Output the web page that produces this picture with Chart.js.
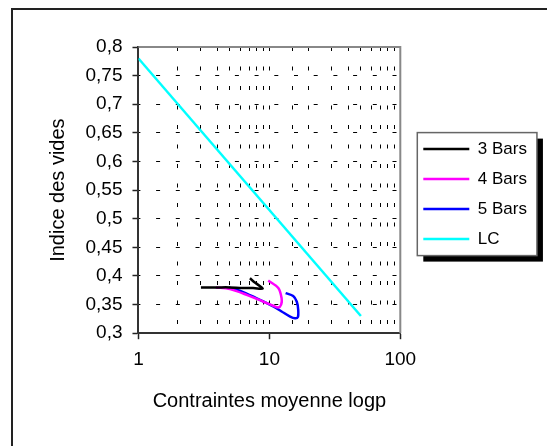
<!DOCTYPE html>
<html>
<head>
<meta charset="utf-8">
<script src="https://cdn.jsdelivr.net/npm/chart.js@4/dist/chart.umd.min.js"></script>
<style>
  html, body { margin: 0; padding: 0; background: #fff; }
  #wrap { position: relative; width: 547px; height: 446px; overflow: hidden; }
  #frame { position: absolute; left: 11px; top: 8px; width: 700px; height: 600px; border: 2px solid #222; }
  #plot { position: absolute; left: 0; top: 0; width: 547px; height: 446px; }
</style>
</head>
<body>
<div id="wrap">
  <div id="frame"></div>
  <div id="plot"><canvas id="myChart"></canvas></div>
</div>
<script>
// void ratio vs mean stress (log scale)
const bars3X = [3.0, 4.0, 5.0, 6.2, 7.5, 8.9, 7.8, 7.1];
const bars3Y = [0.380, 0.380, 0.380, 0.379, 0.379, 0.378, 0.388, 0.396];

const bars4X = [3.9, 5.0, 6.7, 9.0, 10.7, 11.7, 12.3, 12.4, 11.7, 9.8];
const bars4Y = [0.380, 0.377, 0.367, 0.355, 0.348, 0.345, 0.350, 0.361, 0.379, 0.392];

const bars5X = [4.9, 6.0, 8.0, 10.7, 12.4, 14.4, 15.7, 16.5, 16.6, 16.2, 15.2, 13.3];
const bars5Y = [0.380, 0.374, 0.361, 0.347, 0.338, 0.329, 0.326, 0.328, 0.341, 0.355, 0.365, 0.370];

const lcX = [1, 50];
const lcY = [0.78, 0.33];

const xTickLabels = [1, 10, 100];

const toPoints = (xs, ys) => xs.map((x, i) => ({x: x, y: ys[i]}));
const isDecade = v => Math.abs(Math.log10(v) - Math.round(Math.log10(v))) < 1e-9;
const near = (a, b) => Math.abs(a - b) < 1e-6;

Chart.defaults.font.family = "'Liberation Sans', Arial, sans-serif";
Chart.defaults.color = '#000';

// grey top/right edges of the plot, and a boxed legend with a drop shadow
const chartDecor = {
  id: 'chartDecor',
  afterLayout(chart) {
    const lg = chart.legend;
    if (!lg) return;
    const w = lg.width, h = lg.height;
    lg.left = chart.chartArea.right + 10;
    lg.right = lg.left + w;
    lg.top += 4;
    lg.bottom = lg.top + h;
  },
  beforeDraw(chart) {
    const boxes = chart.legend && chart.legend.legendHitBoxes;
    if (!boxes || !boxes.length) return;
    const ctx = chart.ctx;
    const left = Math.min(...boxes.map(b => b.left)) - 6;
    const top = Math.min(...boxes.map(b => b.top)) - 8;
    const right = Math.max(...boxes.map(b => b.left + b.width)) + 10;
    const bottom = Math.max(...boxes.map(b => b.top + b.height)) + 8;
    ctx.save();
    ctx.fillStyle = '#000';
    ctx.fillRect(left + 6, top + 6, right - left, bottom - top);
    ctx.fillStyle = '#fff';
    ctx.fillRect(left, top, right - left, bottom - top);
    ctx.strokeStyle = '#666';
    ctx.lineWidth = 1.5;
    ctx.strokeRect(left, top, right - left, bottom - top);
    ctx.restore();
  },
  beforeDatasetsDraw(chart) {
    const {ctx, chartArea: a} = chart;
    ctx.save();
    ctx.strokeStyle = '#888';
    ctx.lineWidth = 2;
    ctx.beginPath();
    ctx.moveTo(a.left, a.top);
    ctx.lineTo(a.right, a.top);
    ctx.lineTo(a.right, a.bottom);
    ctx.stroke();
    ctx.restore();
  }
};

const line = (label, xs, ys, color) => ({
  label: label,
  data: toPoints(xs, ys),
  showLine: true,
  borderColor: color,
  backgroundColor: color,
  borderWidth: 2.5,
  pointRadius: 0,
  tension: 0.3
});

new Chart(document.getElementById('myChart'), {
  type: 'scatter',
  data: {
    datasets: [
      line('3 Bars', bars3X, bars3Y, '#000000'),
      line('4 Bars', bars4X, bars4Y, '#ff00ff'),
      line('5 Bars', bars5X, bars5Y, '#0000ff'),
      line('LC', lcX, lcY, '#00ffff')
    ]
  },
  options: {
    responsive: true,
    maintainAspectRatio: false,
    animation: false,
    layout: {
      padding: {left: 46, top: 47, right: 28.6, bottom: 23}
    },
    plugins: {
      legend: {
        position: 'right',
        fullSize: false,
        labels: {
          boxWidth: 46,
          boxHeight: 0,
          padding: 13,
          font: {size: 17}
        }
      },
      tooltip: {enabled: false}
    },
    scales: {
      x: {
        type: 'logarithmic',
        position: 'bottom',
        min: 1,
        max: 100,
        ticks: {
          autoSkip: false,
          maxRotation: 0,
          padding: 9,
          font: {size: 19},
          callback: v => xTickLabels.includes(v) ? String(v) : ''
        },
        grid: {
          tickLength: 6,
          lineWidth: 1,
          tickWidth: 1.5,
          color: ctx => (ctx.tick && (ctx.tick.value === 1 || ctx.tick.value === 100)) ? 'rgba(0,0,0,0)' : '#000',
          tickColor: ctx => (ctx.tick && isDecade(ctx.tick.value)) ? '#222' : 'rgba(0,0,0,0)'
        },
        border: {color: '#333', width: 2, dash: [4, 15.5]},
        title: {
          display: true,
          text: 'Contraintes moyenne logp',
          font: {size: 20},
          padding: {top: 9.5, bottom: 9.5}
        }
      },
      y: {
        position: 'left',
        min: 0.3,
        max: 0.8,
        ticks: {
          stepSize: 0.05,
          padding: 10,
          font: {size: 19},
          callback: v => String(Math.round(v * 100) / 100).replace('.', ',')
        },
        grid: {
          tickLength: 6,
          lineWidth: 1,
          tickWidth: 1.5,
          color: ctx => (ctx.tick && (near(ctx.tick.value, 0.3) || near(ctx.tick.value, 0.8))) ? 'rgba(0,0,0,0)' : '#000',
          tickColor: '#222'
        },
        border: {color: '#333', width: 2, dash: [4, 15.7], dashOffset: 2.6},
        title: {
          display: true,
          text: 'Indice des vides',
          font: {size: 20},
          padding: {top: 0, bottom: 5.5}
        }
      }
    }
  },
  plugins: [chartDecor]
});
</script>
</body>
</html>
